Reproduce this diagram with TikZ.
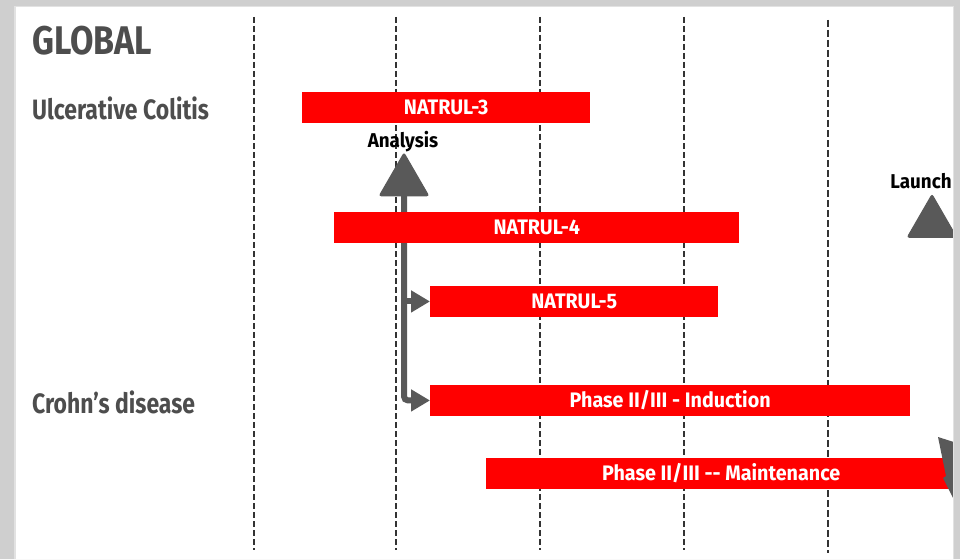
\documentclass[tikz,border=0pt]{standalone}
\usepackage{fontspec}
\setmainfont{Fira Sans}[FakeStretch=0.82]
\newfontfamily\barfont{Fira Sans}[FakeStretch=0.94]
\newfontfamily\headfont{Fira Sans}[FakeStretch=0.85]
\usetikzlibrary{arrows.meta,shapes.geometric}

\definecolor{barred}{HTML}{FF0000}
\definecolor{markgray}{HTML}{595959}
\definecolor{labelgray}{HTML}{4D4D4D}
\definecolor{gridgray}{HTML}{333333}
\definecolor{framegray}{HTML}{CFCFCF}
\definecolor{frameedge}{HTML}{E2E2E2}

\tikzset{
  bar/.style={fill=barred, draw=none, inner sep=0pt, minimum height=30.5pt,
    anchor=north west, text=white, font=\barfont\bfseries\fontsize{21}{21}\selectfont},
  milestone/.style={regular polygon, regular polygon sides=3, fill=markgray,
    draw=markgray, line width=1pt, rounded corners=2pt, minimum size=57pt,
    inner sep=0pt},
  msname/.style={font=\barfont\bfseries\fontsize{20}{20}\selectfont, text=black,
    inner sep=0pt, anchor=base},
  rowlabel/.style={font=\fontsize{28}{28}\selectfont\bfseries, text=labelgray,
    inner sep=0pt, anchor=base west},
  gridline/.style={draw=gridgray, line width=1.3pt, dash pattern=on 6pt off 3pt},
  flow/.style={draw=markgray, line width=6pt, rounded corners=4pt,
    -{Triangle[length=19pt,width=21pt]}},
}

\begin{document}
\begin{tikzpicture}[x=1pt,y=-1pt]
  \useasboundingbox (0,0) rectangle (960,559);
  \fill[white] (0,0) rectangle (960,559);

  % time grid
  \foreach \gx in {254,396,540,684}
    \draw[gridline] (\gx,17) -- (\gx,550);
  \draw[gridline, dash pattern=on 7pt off 3pt] (828,20) -- (828,553);

  % headings
  \node[rowlabel, font=\headfont\fontsize{40}{40}\selectfont\bfseries] (global) at (32,55) {GLOBAL};
  \node[rowlabel] (uc) at (32,119) {Ulcerative Colitis};
  \node[rowlabel] (cd) at (32,413) {Crohn's disease};

  % milestones
  \node[milestone] (ana) at (404,181.5) {};
  \node[msname] (analabel) at (403,147) {Analysis};
  \node[milestone] (lau) at (932,223) {};
  \node[msname] (laulabel) at (921,188) {Launch};

  % flow from the analysis milestone into the later studies
  \coordinate (anabase) at (404,195);
  \node[bar, minimum width=288pt] (n5) at (430,286) {NATRUL-5};
  \node[bar, minimum width=480pt] (ind) at (430,385) {Phase II/III - Induction};
  \draw[flow] (anabase) |- (ind.west);
  \draw[flow, rounded corners=0pt] (anabase |- n5.west) -- (n5.west);

  % study bars
  \node[bar, minimum width=288pt] (n3) at (302,92) {NATRUL-3};
  \node[bar, minimum width=405pt] (n4) at (334,212) {NATRUL-4};
  \node[bar, minimum width=470pt] (mnt) at (486,458) {Phase II/III -{}- Maintenance};

  % marker at the right edge of the maintenance bar
  \fill[markgray] (938,437) -- (960,444) -- (960,512) -- (959,510)
    -- (943,478) -- (946,476) -- cycle;

  % surrounding frame
  \fill[framegray, even odd rule] (0,0) rectangle (960,559) (14,6) rectangle (954,559);
  \draw[frameedge, line width=1.5pt] (14.75,559) -- (14.75,6.75) -- (953.25,6.75) -- (953.25,559);
\end{tikzpicture}
\end{document}
